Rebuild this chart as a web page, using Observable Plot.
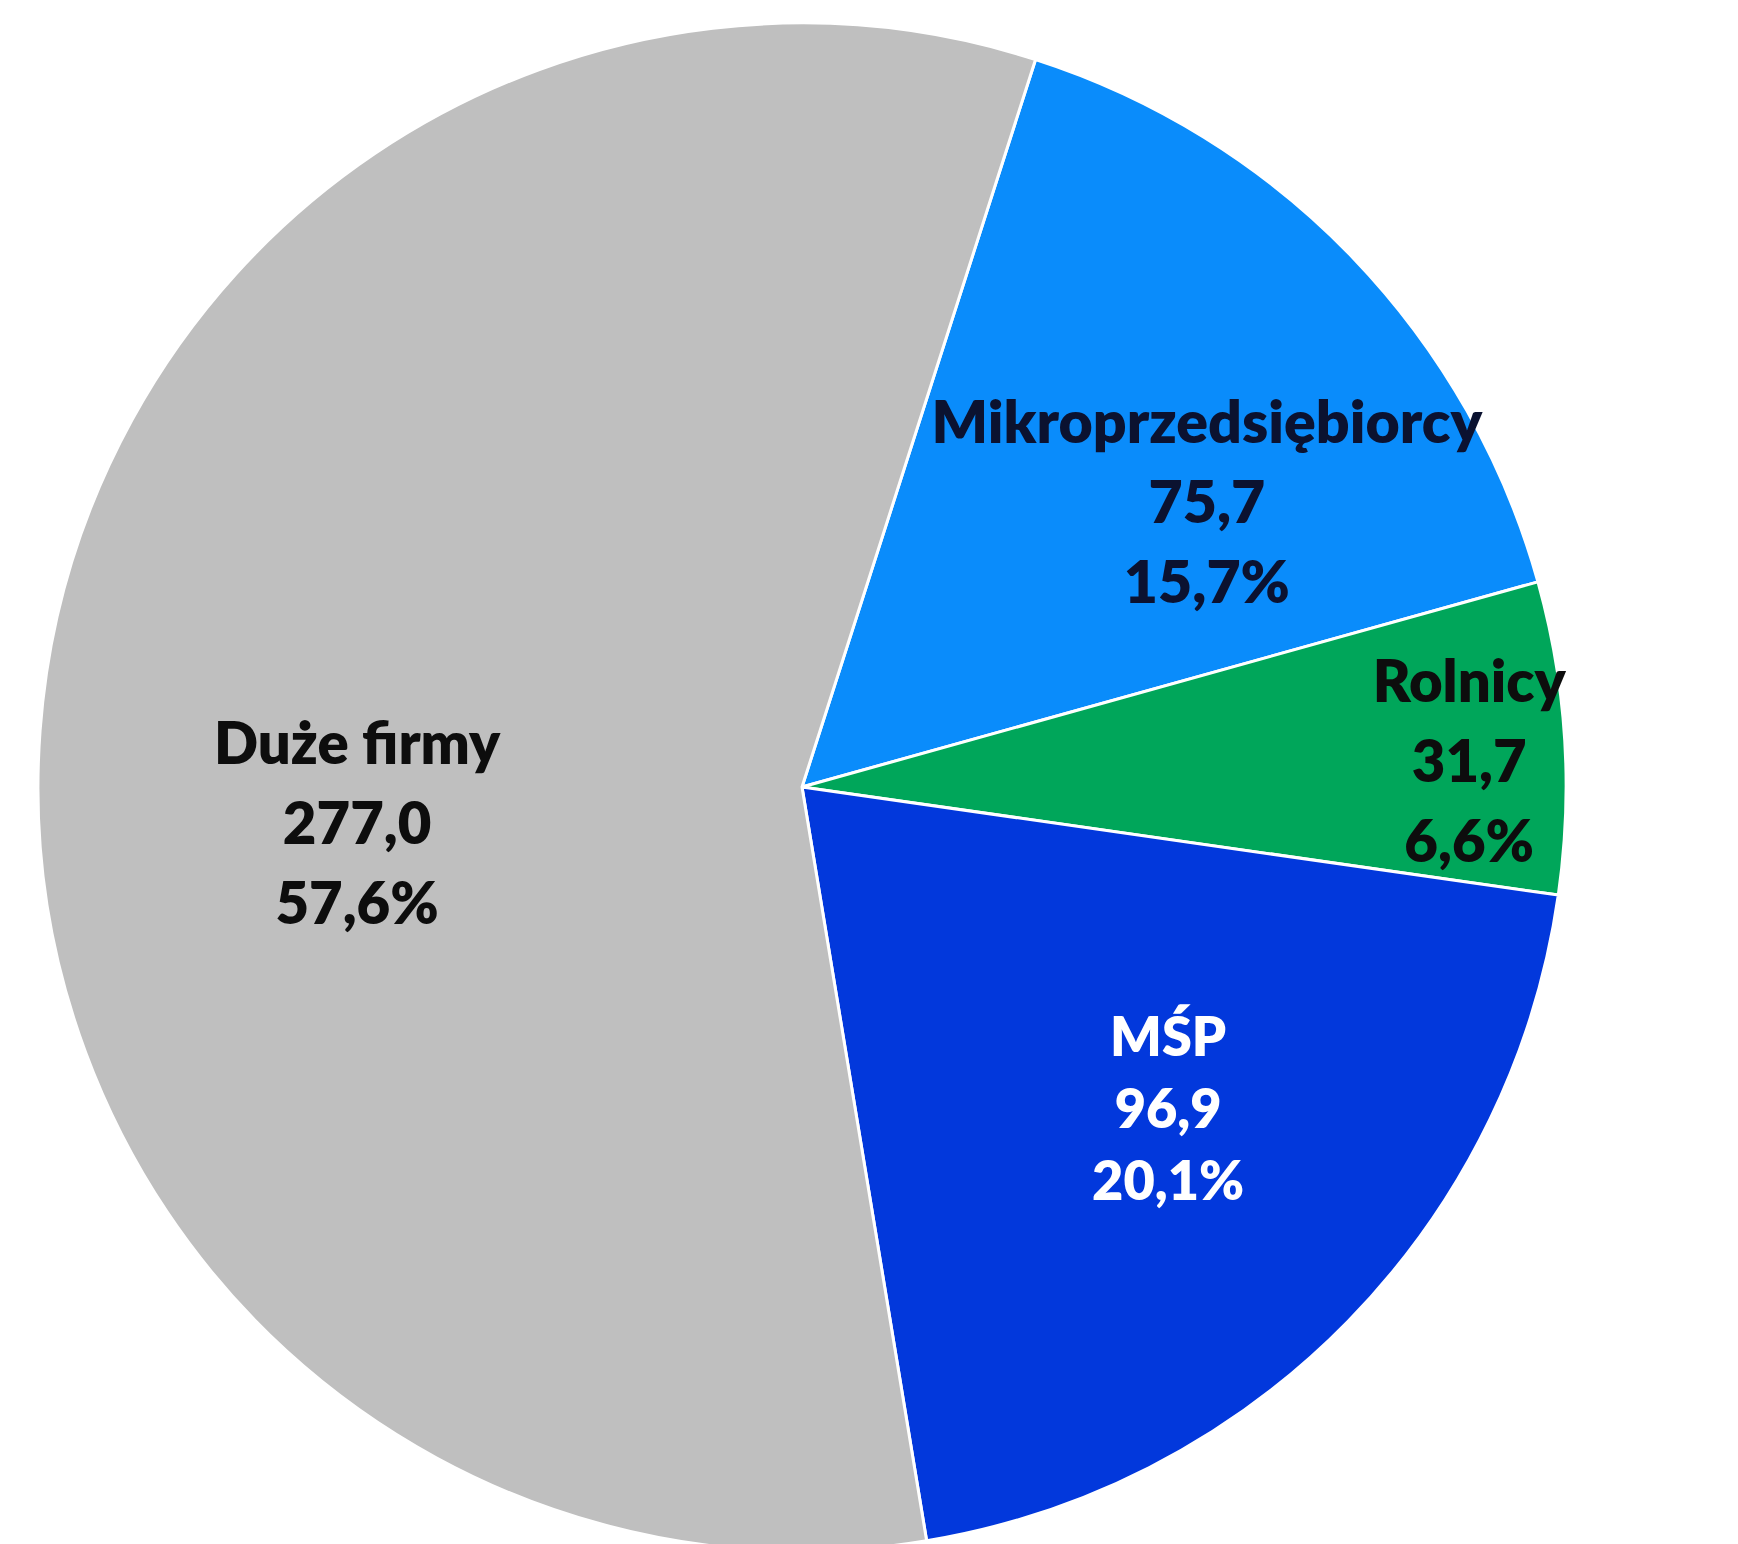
<!DOCTYPE html>
<html>
<head>
<meta charset="utf-8">
<script src="https://cdn.jsdelivr.net/npm/d3@7"></script>
<script src="https://cdn.jsdelivr.net/npm/@observablehq/plot@0.6"></script>
<style>
  html, body { margin: 0; padding: 0; background: #ffffff; }
  #chart svg { display: block; }
</style>
</head>
<body>
<div id="chart"></div>
<script>
// ---- data ----
const categories = ["Mikroprzedsiębiorcy", "Rolnicy", "MŚP", "Duże firmy"];
const values = [75.7, 31.7, 96.9, 277.0];
const colors = ["#0A8CFB", "#00A65A", "#0238DC", "#BFBFBF"];
const textColors = ["#0b1230", "#0d0d0d", "#ffffff", "#0d0d0d"];

// ---- layout / style ----
const W = 1738, H = 1544;
const cx = 802, cy = 787, R = 764;
const startDeg = 17.8;
const labelR = 0.62;
const labelNudge = [[63, 38], [194, 0], [27, -14], [27, 66]];
const labelFont = [59, 58, 54, 58];
const labelLine = [80, 80, 72, 80];

const locale = d3.formatLocale({decimal: ",", thousands: " ", grouping: [3], currency: ["", ""]});
const fmtVal = locale.format(".1f");
const fmtPct = locale.format(".1%");

const total = d3.sum(values);
const rows = categories.map((c, i) => ({category: c, value: values[i], color: colors[i], textColor: textColors[i], nudge: labelNudge[i], font: labelFont[i], line: labelLine[i]}));

const pie = d3.pie().sort(null).value(d => d.value)
  .startAngle(startDeg * Math.PI / 180)
  .endAngle(startDeg * Math.PI / 180 + 2 * Math.PI);
const arcs = pie(rows);

const labels = arcs.map(a => {
  const mid = (a.startAngle + a.endAngle) / 2;
  return {
    x: labelR * Math.sin(mid),
    y: labelR * Math.cos(mid),
    text: `${a.data.category}\n${fmtVal(a.data.value)}\n${fmtPct(a.data.value / total)}`,
    color: a.data.textColor,
    dx: a.data.nudge[0],
    dy: a.data.nudge[1],
    font: a.data.font,
    line: a.data.line
  };
});

function pieMark(index, scales, values, dimensions, context) {
  const x0 = scales.x(0), y0 = scales.y(0);
  const r = Math.abs(scales.x(1) - scales.x(0));
  const arc = d3.arc().innerRadius(0).outerRadius(r);
  const g = d3.create("svg:g").attr("transform", `translate(${x0},${y0})`);
  g.selectAll("path").data(arcs).join("path")
    .attr("d", arc)
    .attr("fill", d => d.data.color)
    .attr("stroke", "#ffffff")
    .attr("stroke-width", 3)
    .attr("stroke-linejoin", "round");
  return g.node();
}

const textMarks = labels.map(l => Plot.text([l], {
  x: "x", y: "y", text: "text",
  dx: l.dx, dy: l.dy,
  fill: l.color,
  fontSize: l.font,
  fontWeight: 800,
  lineHeight: l.line / l.font,
  textAnchor: "middle"
}));

const chart = Plot.plot({
  width: W,
  height: H,
  margin: 0,
  style: {fontFamily: "Lato, 'Open Sans', sans-serif", background: "#ffffff"},
  x: {domain: [-1, 1], range: [cx - R, cx + R], axis: null},
  y: {domain: [-1, 1], range: [cy + R, cy - R], axis: null},
  marks: [pieMark, ...textMarks]
});
document.getElementById("chart").appendChild(chart);
</script>
</body>
</html>
